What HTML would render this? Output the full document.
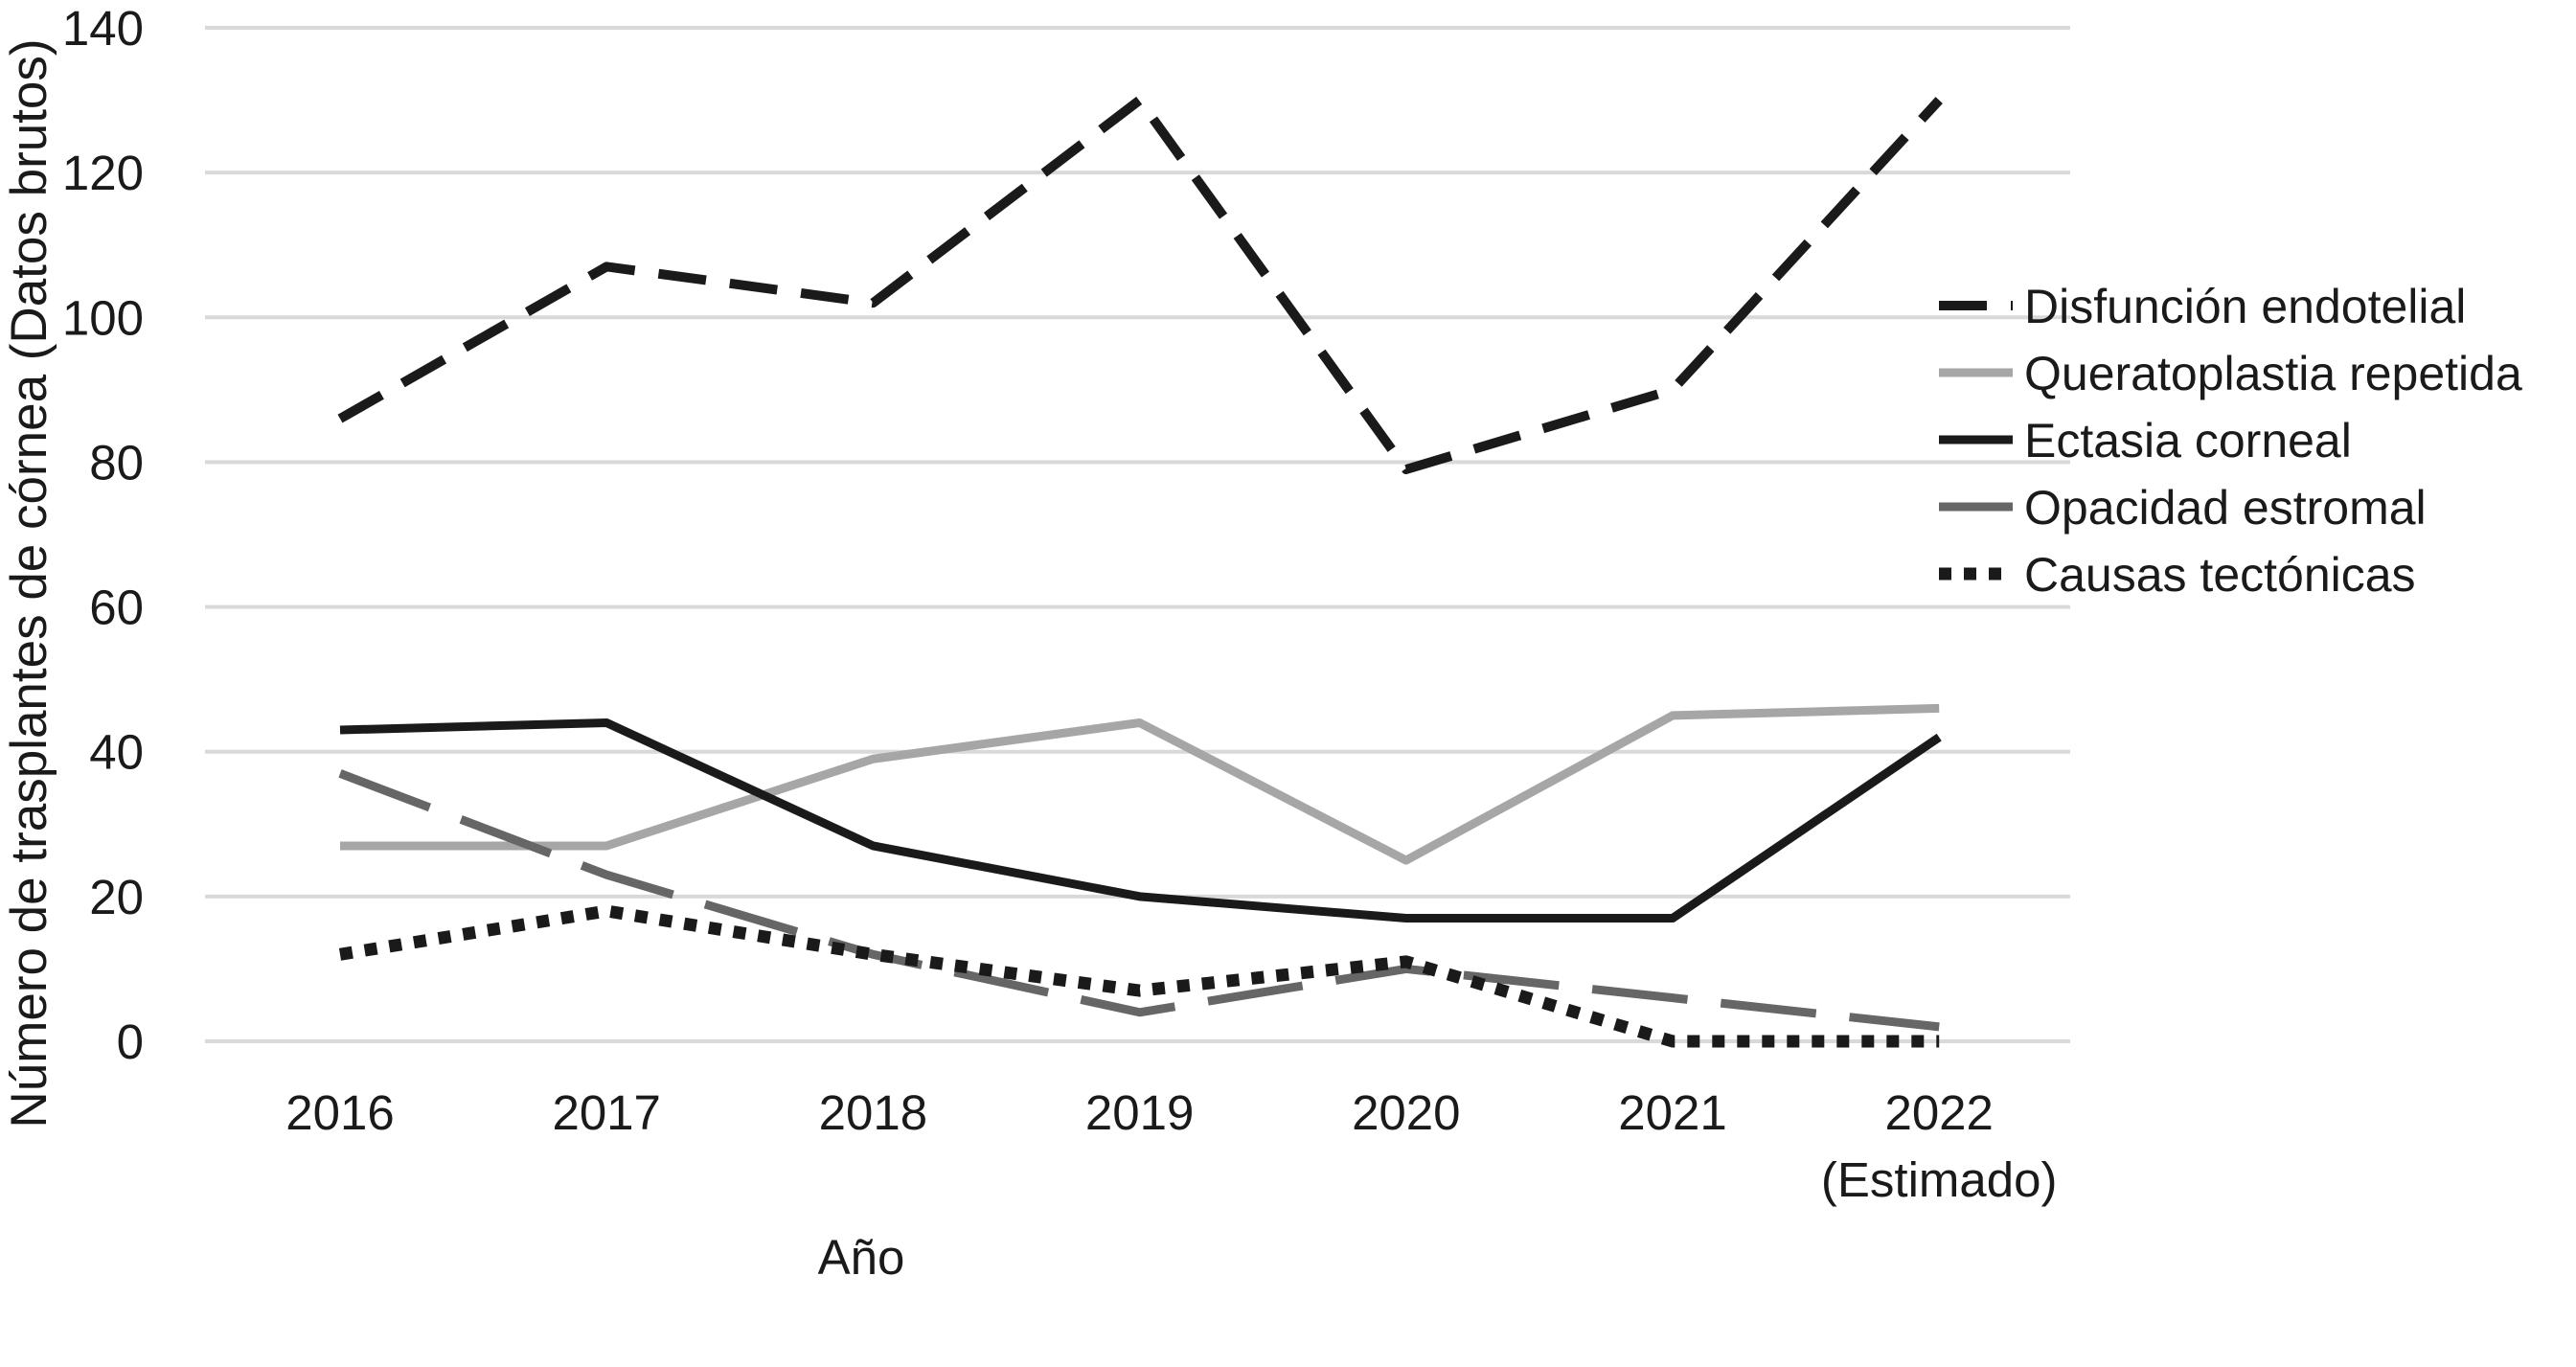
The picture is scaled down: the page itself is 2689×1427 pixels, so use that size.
<!DOCTYPE html>
<html><head><meta charset="utf-8"><style>
body{margin:0;background:#fff}
svg text{font-family:"Liberation Sans",sans-serif;fill:#1a1a1a}
</style></head><body>
<svg id="c" width="2689" height="1422" viewBox="0 0 2689 1422"></svg>
<script>
const categories=["2016","2017","2018","2019","2020","2021","2022"];
const yTicks=[0,20,40,60,80,100,120,140];
const disfuncion=[86,107,102,130,79,90,130];
const queratoplastia=[27,27,39,44,25,45,46];
const ectasia=[43,44,27,20,17,17,42];
const opacidad=[37,23,12,4,10,6,2];
const tectonicas=[12,18,12,7,11,0,0];
const seriesNames=["Disfunción endotelial","Queratoplastia repetida","Ectasia corneal","Opacidad estromal","Causas tectónicas"];
const svg=document.getElementById('c');const NS="http://www.w3.org/2000/svg";
function x(i){return 355+i*278.2;}
function y(v){return 1087-v*(1087-29)/140;}
function mk(t,a,p){const e=document.createElementNS(NS,t);for(const k in a)e.setAttribute(k,a[k]);(p||svg).appendChild(e);return e;}
yTicks.forEach(v=>{
 const g=mk('line',{x1:214,x2:2161,y1:y(v),y2:y(v),stroke:'#d9d9d9','stroke-width':4});
 
 
 const t=mk('text',{x:150,y:y(v)+18,'text-anchor':'end','font-size':51});t.textContent=v;
 
 
});
categories.forEach((c,i)=>{
 const t=mk('text',{x:x(i),y:1179,'text-anchor':'middle','font-size':51});t.textContent=c;
 
 
});
const est=mk('text',{x:x(6),y:1249,'text-anchor':'middle','font-size':51});est.textContent="(Estimado)";


const styles=[
 {d:disfuncion,c:'#1a1a1a',w:10,da:'50 25',lc:'butt'},
 {d:queratoplastia,c:'#a6a6a6',w:9,da:'',lc:'butt'},
 {d:ectasia,c:'#1a1a1a',w:9,da:'',lc:'butt'},
 {d:opacidad,c:'#666',w:9,da:'100 35',lc:'butt'},
 {d:tectonicas,c:'#1a1a1a',w:13,da:'13 13',lc:'butt'}];
styles.forEach((s,k)=>{
 const pts=s.d.map((v,i)=>x(i)+','+y(v)).join(' ');
 const p=mk('polyline',{points:pts,fill:'none',stroke:s.c,'stroke-width':s.w,'stroke-dasharray':s.da,'stroke-linejoin':'round','stroke-linecap':s.lc});
 
 
 const ly=319+k*70;
 const l=mk('line',{x1:2024,x2:2101,y1:ly,y2:ly,stroke:s.c,'stroke-width':s.w,'stroke-dasharray':s.da});
 
 
 const t=mk('text',{x:2113,y:ly+18,'font-size':50});t.textContent=seriesNames[k];
 
 
});
const yt=mk('text',{x:0,y:0,'text-anchor':'middle','font-size':53,transform:'translate(48,609) rotate(-90)'});
yt.textContent="Número de trasplantes de córnea (Datos brutos)";


const xt=mk('text',{x:899,y:1330,'text-anchor':'middle','font-size':51});xt.textContent="Año";


</script>
</body></html>
